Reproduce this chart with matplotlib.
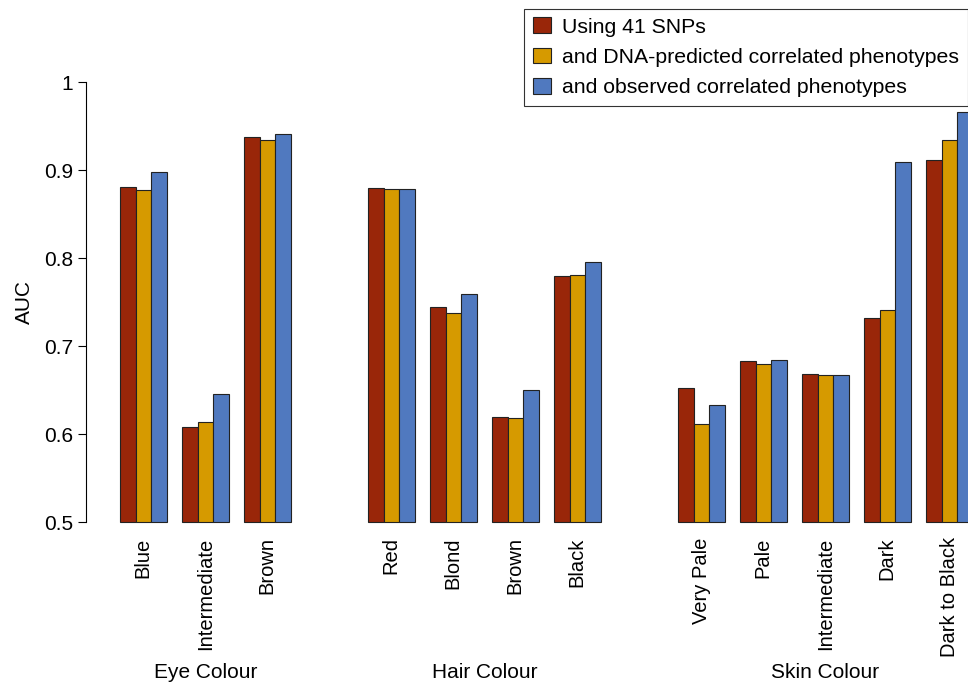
import matplotlib
matplotlib.use("Agg")
import matplotlib.pyplot as plt
import numpy as np

plt.rcParams["font.family"] = ["Liberation Sans", "DejaVu Sans"]

# AUC per trait level, one list per model
categories = ["Eye Colour", "Hair Colour", "Skin Colour"]
levels = [
    ["Blue", "Intermediate", "Brown"],
    ["Red", "Blond", "Brown", "Black"],
    ["Very Pale", "Pale", "Intermediate", "Dark", "Dark to Black"],
]
series_names = [
    "Using 41 SNPs",
    "and DNA-predicted correlated phenotypes",
    "and observed correlated phenotypes",
]
auc_snps = [0.881, 0.608, 0.937, 0.880, 0.744, 0.619, 0.780, 0.652, 0.683, 0.668, 0.732, 0.911]
auc_dna_pred = [0.877, 0.614, 0.934, 0.878, 0.737, 0.618, 0.781, 0.611, 0.680, 0.667, 0.741, 0.934]
auc_observed = [0.898, 0.645, 0.941, 0.878, 0.759, 0.650, 0.795, 0.633, 0.684, 0.667, 0.909, 0.966]
colors = ["#992609", "#D69A00", "#5079BF"]

W, H = 968, 686
fig = plt.figure(figsize=(W / 100, H / 100), dpi=100)

# axes placed in pixel terms; right side runs past the figure edge
px_left, px_right, px_top, px_bottom = 86, 1010, 82, 522
ax = fig.add_axes([px_left / W, 1 - px_bottom / H,
                   (px_right - px_left) / W, (px_bottom - px_top) / H])
unit = 15.5
x0 = -(120 - px_left) / unit
ax.set_xlim(x0, x0 + (px_right - px_left) / unit)
ax.set_ylim(0.5, 1.0)

# bar positions: 3 bars per level, 1 gap between levels, 5 between traits
lefts, centers, labels, cat_centers = [], [], [], []
pos = 0
for cat, lev in zip(categories, levels):
    start = pos
    for name in lev:
        lefts.append(pos)
        centers.append(pos + 1.5)
        labels.append(name)
        pos += 4
    cat_centers.append((start + pos - 1) / 2)
    pos += 4
lefts = np.array(lefts)

series = [auc_snps, auc_dna_pred, auc_observed]
handles = []
for k, (vals, col) in enumerate(zip(series, colors)):
    vals = np.array(vals)
    b = ax.bar(lefts + k, vals - 0.5, bottom=0.5, width=1, align="edge",
               color=col, edgecolor="#222222", linewidth=0.8, clip_on=False)
    handles.append(b)

for s in ["top", "right", "bottom"]:
    ax.spines[s].set_visible(False)
ax.spines["left"].set_linewidth(0.8)
ax.set_yticks([0.5, 0.6, 0.7, 0.8, 0.9, 1.0])
ax.set_yticklabels(["0.5", "0.6", "0.7", "0.8", "0.9", "1"])
ax.tick_params(axis="y", length=6, width=0.8, pad=3.5, labelsize=15)
ax.set_xticks(centers)
ax.set_xticklabels(labels, rotation=90, fontsize=14.5)
ax.tick_params(axis="x", length=0, pad=11)
ax.set_ylabel("AUC", fontsize=15, labelpad=7)

for cat, cx in zip(categories, cat_centers):
    ax.annotate(cat, xy=(cx, 1 - 673 / H), xycoords=("data", "figure fraction"),
                ha="center", va="center", fontsize=15)

leg = fig.legend(handles, series_names, loc="upper left",
                 bbox_to_anchor=(524 / W, 1 - 9 / H), borderaxespad=0,
                 fontsize=15.3, frameon=True, fancybox=False, edgecolor="black",
                 handlelength=0.89, handleheight=0.75, handletextpad=0.52,
                 labelspacing=0.52, borderpad=0.4)
leg.get_frame().set_linewidth(0.8)

fig.savefig("out.png", dpi=100)
